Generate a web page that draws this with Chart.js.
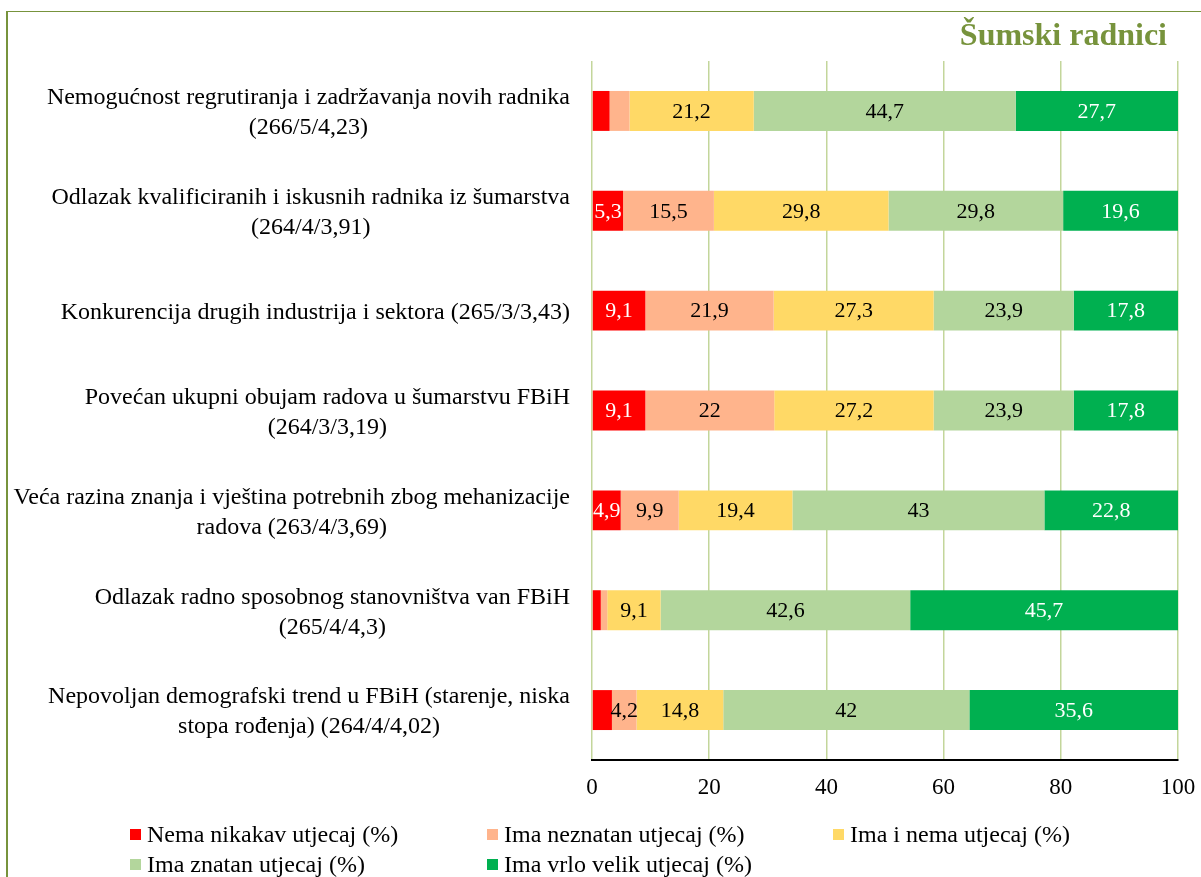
<!DOCTYPE html>
<html>
<head>
<meta charset="utf-8">
<script src="https://cdn.jsdelivr.net/npm/chart.js@4"></script>
<style>
  body { margin: 0; background: #fff; overflow: hidden; }
  #wrap { position: relative; width: 1201px; height: 877px; }
  #frame { position: absolute; left: 6px; top: 11px; right: -10px; bottom: -10px;
           border-left: 2px solid #77933C; border-top: 1.5px solid #77933C; pointer-events: none; }
  canvas { position: absolute; left: 0; top: 0; }
  #title { position: absolute; right: 34px; top: 14px; font-family: 'Liberation Serif', 'Times New Roman', serif;
           font-size: 32px; font-weight: bold; color: #77933C; line-height: 40px; }
  #legend { position: absolute; left: 130px; top: 819px; display: grid;
            grid-template-columns: 357px 346px auto; font-family: 'Liberation Serif', 'Times New Roman', serif;
            font-size: 24px; color: #000; line-height: 30px; }
  #legend span.item { display: flex; align-items: center; white-space: nowrap; }
  #legend span.box { display: inline-block; width: 11px; height: 11px; margin-right: 6px; }
</style>
</head>
<body>
<div id="wrap">
  <div id="frame"></div>
  <canvas id="chart" width="1201" height="877"></canvas>
  <div id="title">Šumski radnici</div>
  <div id="legend"></div>
</div>
<script>
const categories = [
    ['Nemogućnost regrutiranja i zadržavanja novih radnika', '(266/5/4,23)'],
    ['Odlazak kvalificiranih i iskusnih radnika iz šumarstva', '(264/4/3,91)'],
    ['Konkurencija drugih industrija i sektora (265/3/3,43)'],
    ['Povećan ukupni obujam radova u šumarstvu FBiH', '(264/3/3,19)'],
    ['Veća razina znanja i vještina potrebnih zbog mehanizacije', 'radova (263/4/3,69)'],
    ['Odlazak radno sposobnog stanovništva van FBiH', '(265/4/4,3)'],
    ['Nepovoljan demografski trend u FBiH (starenje, niska', 'stopa rođenja) (264/4/4,02)']
];

const seriesNames = [
    'Nema nikakav utjecaj (%)',
    'Ima neznatan utjecaj (%)',
    'Ima i nema utjecaj (%)',
    'Ima znatan utjecaj (%)',
    'Ima vrlo velik utjecaj (%)'
];

const nemaNikakav  = [3.0, 5.3, 9.1, 9.1, 4.9, 1.5, 3.4];
const imaNeznatan  = [3.4, 15.5, 21.9, 22, 9.9, 1.1, 4.2];
const imaINema     = [21.2, 29.8, 27.3, 27.2, 19.4, 9.1, 14.8];
const imaZnatan    = [44.7, 29.8, 23.9, 23.9, 43, 42.6, 42];
const imaVrloVelik = [27.7, 19.6, 17.8, 17.8, 22.8, 45.7, 35.6];

const xTicks = [0, 20, 40, 60, 80, 100];

const colors = ['#FF0000', '#FFB48C', '#FFD966', '#B3D69C', '#00B050'];
const labelColors = ['#FFFFFF', '#000000', '#000000', '#000000', '#FFFFFF'];
const serif = "'Liberation Serif', 'Times New Roman', serif";

const seriesData = [nemaNikakav, imaNeznatan, imaINema, imaZnatan, imaVrloVelik];

// values inside the bars
const valueLabels = {
    id: 'valueLabels',
    afterDatasetsDraw(chart) {
        const ctx = chart.ctx;
        ctx.save();
        ctx.font = '22px ' + serif;
        ctx.textAlign = 'center';
        ctx.textBaseline = 'middle';
        chart.data.datasets.forEach((ds, i) => {
            const meta = chart.getDatasetMeta(i);
            meta.data.forEach((bar, j) => {
                const v = ds.data[j];
                if (v < 4) return;
                const p = bar.getCenterPoint();
                ctx.fillStyle = labelColors[i];
                ctx.fillText(String(v).replace('.', ','), p.x, p.y + 1);
            });
        });
        ctx.restore();
    }
};

// category labels: block right-aligned, lines centred inside the block
const categoryLabels = {
    id: 'categoryLabels',
    afterDraw(chart) {
        const ctx = chart.ctx;
        const y = chart.scales.y;
        const right = chart.chartArea.left - 22;
        const lh = 30;
        ctx.save();
        ctx.font = '24px ' + serif;
        ctx.fillStyle = '#000';
        ctx.textAlign = 'center';
        ctx.textBaseline = 'middle';
        categories.forEach((lines, i) => {
            const w = Math.max(...lines.map(l => ctx.measureText(l).width));
            const cx = right - w / 2;
            const cy = y.getPixelForValue(i) + 2;
            const top = cy - (lines.length - 1) * lh / 2;
            lines.forEach((l, k) => ctx.fillText(l, cx, top + k * lh));
        });
        ctx.restore();
    }
};

const chart = new Chart(document.getElementById('chart'), {
    type: 'bar',
    data: {
        labels: categories,
        datasets: seriesNames.map((name, i) => ({
            label: name,
            data: seriesData[i],
            backgroundColor: colors[i],
            borderWidth: 0,
            barPercentage: 0.4,
            categoryPercentage: 1.0
        }))
    },
    options: {
        indexAxis: 'y',
        responsive: false,
        animation: false,
        layout: { padding: { top: 61, right: 23, bottom: 75, left: 0 } },
        plugins: {
            legend: { display: false },
            tooltip: { enabled: false }
        },
        scales: {
            x: {
                stacked: true,
                min: 0,
                max: 100,
                afterBuildTicks: s => { s.ticks = xTicks.map(v => ({ value: v })); },
                afterFit: s => { s.height = 42; s.paddingLeft = 0; s.paddingRight = 0; },
                ticks: { color: '#000', padding: 14, font: { family: serif, size: 23 } },
                grid: { color: '#C3D69B', lineWidth: 1.5, drawTicks: false },
                border: { display: true, color: '#000', width: 2 }
            },
            y: {
                stacked: true,
                ticks: { display: false },
                grid: { display: false },
                border: { display: false },
                afterFit: s => { s.width = 592; s.paddingTop = 0; s.paddingBottom = 0; }
            }
        }
    },
    plugins: [valueLabels, categoryLabels]
});

// legend, three columns
const legend = document.getElementById('legend');
chart.data.datasets.forEach(ds => {
    const item = document.createElement('span');
    item.className = 'item';
    const box = document.createElement('span');
    box.className = 'box';
    box.style.background = ds.backgroundColor;
    item.appendChild(box);
    item.appendChild(document.createTextNode(ds.label));
    legend.appendChild(item);
});
</script>
</body>
</html>
